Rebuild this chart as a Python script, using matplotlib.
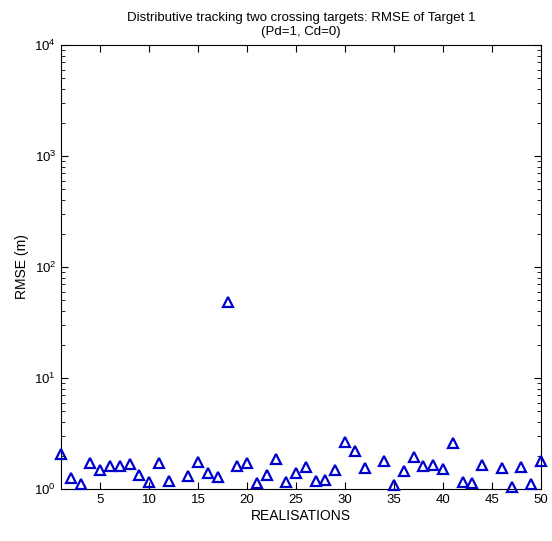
import matplotlib as mpl
mpl.use('Agg')
import matplotlib.pyplot as plt
import numpy as np

# realisation index and RMSE of target 1 (nan = not shown, below 10^0)
realisations = list(range(1, 51))
rmse = [2.05, 1.25, 1.12, 1.72, 1.48, 1.61, 1.61, 1.67, 1.34, 1.16,
        1.70, 1.19, np.nan, 1.31, 1.76, 1.40, 1.27, 48.7, 1.61, 1.72,
        1.14, 1.34, 1.85, 1.16, 1.40, 1.57, 1.19, 1.20, 1.48, 2.67,
        2.20, 1.54, np.nan, 1.80, 1.09, 1.46, 1.95, 1.61, 1.64, 1.50,
        2.61, 1.16, 1.14, 1.64, np.nan, 1.54, 1.05, 1.59, 1.11, 1.80]
xticks = [5, 10, 15, 20, 25, 30, 35, 40, 45, 50]

plt.rcParams['font.family'] = ['Liberation Sans', 'DejaVu Sans']
plt.rcParams['mathtext.fontset'] = 'custom'
plt.rcParams['mathtext.rm'] = 'Liberation Sans'
plt.rcParams['mathtext.default'] = 'regular'

fig = plt.figure(figsize=(5.52, 5.41), dpi=100)
ax = fig.add_axes([0.1105, 0.0961, 0.8695, 0.8207])

ax.semilogy(realisations, rmse, '^', color='#0000cc', markersize=7.5,
            markerfacecolor='none', markeredgewidth=1.6, clip_on=False, zorder=3)
ax.set_xlim(1, 50)
ax.set_ylim(1, 1e4)
ax.set_xticks(xticks)
ax.tick_params(which='both', direction='in', top=True, right=True, labelsize=9.5)
ax.tick_params(which='major', length=5)
ax.tick_params(which='minor', length=3)
ax.set_xlabel('REALISATIONS', fontsize=10, labelpad=2)
ax.set_ylabel('RMSE (m)', fontsize=10)
ax.set_title('Distributive tracking two crossing targets: RMSE of Target 1\n(Pd=1, Cd=0)',
             fontsize=9.5, pad=7, linespacing=1.3)
for s in ax.spines.values():
    s.set_linewidth(0.8)

fig.savefig('out.png', dpi=100)
